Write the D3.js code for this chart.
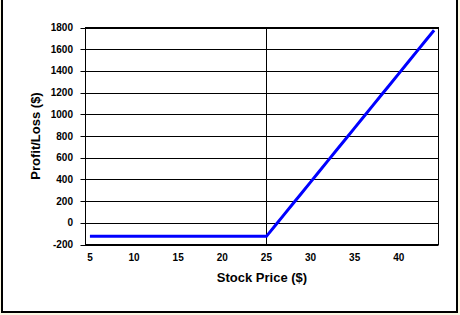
<!DOCTYPE html>
<html>
<head>
<meta charset="utf-8">
<script src="https://cdn.jsdelivr.net/npm/d3@7"></script>
<style>
  html, body { margin: 0; padding: 0; background: #fbf8e4; }
  svg { display: block; }
  text { font-family: "Liberation Sans", Arial, sans-serif; font-weight: bold; fill: #000; }
</style>
</head>
<body>
<div id="chart"></div>
<script>
// stock price at expiry (category axis)
const prices = [5, 6, 7, 8, 9, 10, 11, 12, 13, 14, 15, 16, 17, 18, 19, 20,
  21, 22, 23, 24, 25, 26, 27, 28, 29, 30, 31, 32, 33, 34, 35, 36, 37, 38,
  39, 40, 41, 42, 43, 44];
// long call, strike 25, premium 125
const profit = [-125, -125, -125, -125, -125, -125, -125, -125, -125, -125,
  -125, -125, -125, -125, -125, -125, -125, -125, -125, -125, -125, -25, 75,
  175, 275, 375, 475, 575, 675, 775, 875, 975, 1075, 1175, 1275, 1375, 1475,
  1575, 1675, 1775];
const xTickLabels = [5, 10, 15, 20, 25, 30, 35, 40];
const yTicks = [-200, 0, 200, 400, 600, 800, 1000, 1200, 1400, 1600, 1800];
const strike = 25;

const width = 460, height = 315;
const plot = { left: 85.5, top: 27.5, right: 438.5, bottom: 244.5 };

const svg = d3.select("#chart").append("svg")
  .attr("width", width)
  .attr("height", height);

// outer frame
svg.append("rect")
  .attr("x", 2).attr("y", -2)
  .attr("width", 455).attr("height", 314)
  .attr("fill", "#fff")
  .attr("stroke", "#000")
  .attr("stroke-width", 2);

const x = d3.scalePoint()
  .domain(prices)
  .range([plot.left, plot.right])
  .padding(0.5);

const y = d3.scaleLinear()
  .domain([-200, 1800])
  .range([plot.bottom, plot.top]);

// gridlines
svg.append("g")
  .selectAll("line")
  .data(yTicks)
  .join("line")
  .attr("x1", plot.left - 5)
  .attr("x2", plot.right)
  .attr("y1", (d) => Math.round(y(d)) + 0.5)
  .attr("y2", (d) => Math.round(y(d)) + 0.5)
  .attr("stroke", "#000")
  .attr("stroke-width", 1);

// vertical line at the strike
svg.append("line")
  .attr("x1", Math.round(x(strike)) + 0.5)
  .attr("x2", Math.round(x(strike)) + 0.5)
  .attr("y1", plot.top)
  .attr("y2", plot.bottom)
  .attr("stroke", "#000");

// plot border
svg.append("rect")
  .attr("x", plot.left)
  .attr("y", plot.top)
  .attr("width", plot.right - plot.left)
  .attr("height", plot.bottom - plot.top)
  .attr("fill", "none")
  .attr("stroke", "#000");

// y tick labels
svg.append("g")
  .selectAll("text")
  .data(yTicks)
  .join("text")
  .attr("x", 73)
  .attr("y", (d) => y(d))
  .attr("dy", "0.35em")
  .attr("text-anchor", "end")
  .attr("font-size", 10)
  .text((d) => d);

// x tick labels
svg.append("g")
  .selectAll("text")
  .data(xTickLabels)
  .join("text")
  .attr("x", (d) => x(d))
  .attr("y", 261)
  .attr("text-anchor", "middle")
  .attr("font-size", 10)
  .text((d) => d);

// axis titles
svg.append("text")
  .attr("x", (plot.left + plot.right) / 2)
  .attr("y", 282)
  .attr("text-anchor", "middle")
  .attr("font-size", 13)
  .text("Stock Price ($)");

svg.append("text")
  .attr("transform", `translate(40,${(plot.top + plot.bottom) / 2}) rotate(-90)`)
  .attr("text-anchor", "middle")
  .attr("font-size", 13)
  .text("Profit/Loss ($)");

// payoff line
const line = d3.line()
  .x((d, i) => x(prices[i]))
  .y((d) => y(d));

svg.append("path")
  .datum(profit)
  .attr("d", line)
  .attr("fill", "none")
  .attr("stroke", "#0000ff")
  .attr("stroke-width", 3);
</script>
</body>
</html>
